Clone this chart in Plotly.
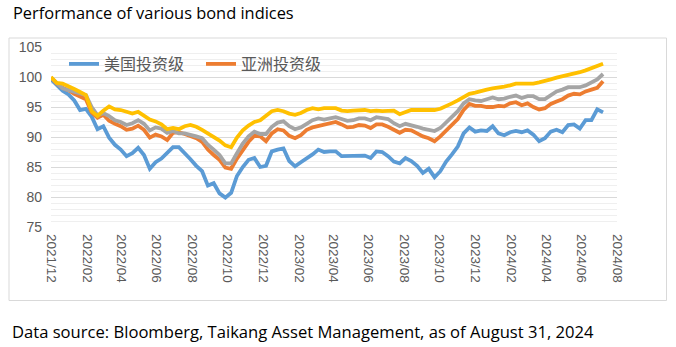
import pandas as pd
import plotly.graph_objects as go

# ~10-day observations starting Dec 2021
dates = pd.date_range("2021-12-01", periods=96, freq="10D")

us_ig = [99.6, 98.6, 97.7, 97.1, 96.1, 94.5, 94.7, 93.4, 91.3, 91.8,
         89.9, 88.7, 87.9, 86.8, 87.3, 88.2, 87.0, 84.7, 85.8, 86.4,
         87.4, 88.3, 88.3, 87.4, 86.3, 85.2, 84.3, 81.9, 82.3, 80.6,
         79.9, 80.7, 83.5, 85.0, 86.2, 86.5, 85.0, 85.2, 87.6, 87.9,
         88.1, 86.0, 85.1, 85.8, 86.4, 87.1, 87.9, 87.5, 87.6, 87.6,
         86.8, 86.8, 86.9, 86.8, 86.9, 86.5, 87.6, 87.5, 86.8, 85.9,
         85.6, 86.5, 86.0, 85.2, 84.0, 84.7, 83.3, 84.3, 85.9, 87.1,
         88.4, 90.6, 91.6, 90.9, 91.1, 91.0, 91.8, 90.6, 90.3, 90.8,
         91.0, 90.8, 91.1, 90.4, 89.3, 89.8, 90.9, 91.2, 90.8, 92.0,
         92.1, 91.4, 92.8, 92.8, 94.6, 94.1]

asia_ig = [99.9, 98.9, 98.2, 97.8, 97.2, 96.8, 96.3, 94.1, 93.2, 93.7,
           92.7, 92.2, 91.8, 91.2, 91.4, 91.9, 91.2, 89.9, 90.4, 90.1,
           89.5, 90.7, 90.8, 90.5, 90.1, 89.8, 89.2, 87.9, 87.0, 86.2,
           84.9, 84.7, 86.4, 87.9, 89.2, 90.2, 90.1, 89.3, 90.6, 91.3,
           91.1, 90.2, 89.8, 90.3, 91.2, 91.6, 91.8, 92.0, 92.3, 92.5,
           92.1, 91.6, 91.7, 92.0, 91.9, 91.5, 92.1, 92.1, 91.7, 91.2,
           90.7, 91.2, 91.1, 90.6, 90.1, 89.8, 89.3, 90.1, 91.1, 92.0,
           93.0, 94.5, 95.5, 95.2, 95.2, 95.0, 95.0, 95.2, 95.1, 95.6,
           95.8, 95.3, 95.6, 95.0, 94.6, 94.8, 95.5, 95.9, 96.3, 96.9,
           97.2, 97.1, 97.6, 97.9, 98.2, 99.3]

gray_series = [99.9, 98.9, 98.1, 97.8, 97.5, 97.3, 97.0, 95.0, 93.6, 94.0,
               93.5, 92.8, 92.5, 92.0, 92.3, 92.8, 92.2, 91.1, 91.6, 91.4,
               90.7, 91.0, 90.6, 90.6, 90.4, 90.1, 89.8, 88.7, 87.9, 87.0,
               85.6, 85.6, 87.3, 88.9, 90.1, 90.9, 90.5, 90.5, 91.7, 92.4,
               92.6, 91.8, 91.3, 91.6, 92.2, 92.8, 93.1, 92.9, 93.1, 93.3,
               93.0, 92.7, 92.8, 93.1, 93.1, 92.8, 93.3, 93.2, 93.0, 92.3,
               91.8, 92.2, 92.0, 91.7, 91.4, 91.2, 91.0, 91.5, 92.4, 93.4,
               94.3, 95.6, 96.3, 96.1, 96.0, 96.3, 96.6, 96.3, 96.4, 96.7,
               96.9, 96.5, 96.8, 96.8, 96.3, 96.3, 96.9, 97.6, 97.9, 98.3,
               98.3, 98.3, 98.6, 99.1, 99.6, 100.5]

gold_series = [100.0, 99.0, 98.9, 98.5, 98.0, 97.5, 97.0, 94.3, 93.5, 94.4,
               95.1, 94.6, 94.5, 94.2, 93.9, 94.2, 93.5, 92.9, 92.6, 92.1,
               91.3, 91.5, 91.3, 91.8, 92.0, 91.7, 91.2, 90.6, 90.1, 89.4,
               88.6, 88.3, 89.9, 91.1, 91.9, 92.5, 92.8, 93.5, 94.3, 94.5,
               94.3, 93.9, 93.7, 94.0, 94.5, 94.8, 94.6, 94.8, 94.8, 94.8,
               94.4, 94.3, 94.4, 94.5, 94.5, 94.3, 94.4, 94.3, 94.4, 94.4,
               93.8, 94.2, 94.5, 94.5, 94.5, 94.5, 94.5, 94.7, 95.1, 95.6,
               96.1, 96.7, 97.2, 97.4, 97.7, 97.9, 98.1, 98.2, 98.4, 98.6,
               98.9, 98.9, 98.9, 98.9, 99.1, 99.3, 99.6, 99.9, 100.1, 100.3,
               100.6, 100.8, 101.1, 101.5, 101.8, 102.2]

tick_dates = pd.date_range("2021-12-01", "2024-08-01", freq="2MS")
tick_text = [d.strftime("%Y/%m") for d in tick_dates]

series = [
    ("美国投资级", us_ig, "#5B9BD5", True),
    ("亚洲投资级", asia_ig, "#ED7D31", True),
    ("其他", gray_series, "#A5A5A5", False),
    ("其他2", gold_series, "#FFC000", False),
]

fig = go.Figure()
for name, vals, color, show in series:
    fig.add_trace(go.Scatter(
        x=dates, y=vals, name=name, mode="lines",
        line=dict(color=color, width=3.8),
        showlegend=show,
    ))

W, H = 676, 347
L, R, T, B = 51, 59, 47, 120
pw, ph = W - L - R, H - T - B

def px(x):
    return (x - L) / pw

def py(y):
    return (H - B - y) / ph

fig.update_layout(
    width=W, height=H,
    margin=dict(l=L, r=R, t=T, b=B),
    paper_bgcolor="white", plot_bgcolor="white",
    font=dict(family="Liberation Sans, Arial, sans-serif", color="#595959"),
    showlegend=True,
    legend=dict(
        orientation="h", x=px(64), y=py(64), xanchor="left", yanchor="middle",
        bgcolor="rgba(0,0,0,0)",
        font=dict(size=16, family="Noto Sans CJK SC", color="#595959"),
        entrywidth=92, entrywidthmode="pixels",
    ),
    xaxis=dict(
        type="date",
        range=["2021-12-01", "2024-08-01"],
        tickvals=list(tick_dates), ticktext=tick_text,
        tickangle=90, showgrid=False, zeroline=False, showline=False,
        ticks="", tickfont=dict(size=13.5, color="#595959"),
        ticklabelstandoff=6,
    ),
    yaxis=dict(
        range=[75, 105], dtick=5, tick0=75,
        showgrid=True, gridcolor="#D9D9D9", gridwidth=1,
        zeroline=False, showline=False, ticks="",
        tickfont=dict(size=14, color="#595959"),
        ticklabelstandoff=8,
        minor=dict(dtick=1, showgrid=True, gridcolor="#EFEFEF", gridwidth=1),
    ),
    shapes=[dict(
        type="rect", xref="paper", yref="paper",
        x0=px(9), x1=px(666.5), y0=py(300.5), y1=py(38),
        line=dict(color="#D9D9D9", width=1), fillcolor="rgba(0,0,0,0)",
        layer="below",
    )],
    annotations=[
        dict(text="Performance of various bond indices", xref="paper", yref="paper",
             x=px(11), y=py(12), xanchor="left", yanchor="middle", showarrow=False,
             font=dict(family="Open Sans", size=16.4, color="#000000")),
        dict(text="Data source: Bloomberg, Taikang Asset Management, as of August 31, 2024",
             xref="paper", yref="paper",
             x=px(10), y=py(331), xanchor="left", yanchor="middle", showarrow=False,
             font=dict(family="Open Sans", size=16.6, color="#000000")),
    ],
)

fig.write_html("out.html")
